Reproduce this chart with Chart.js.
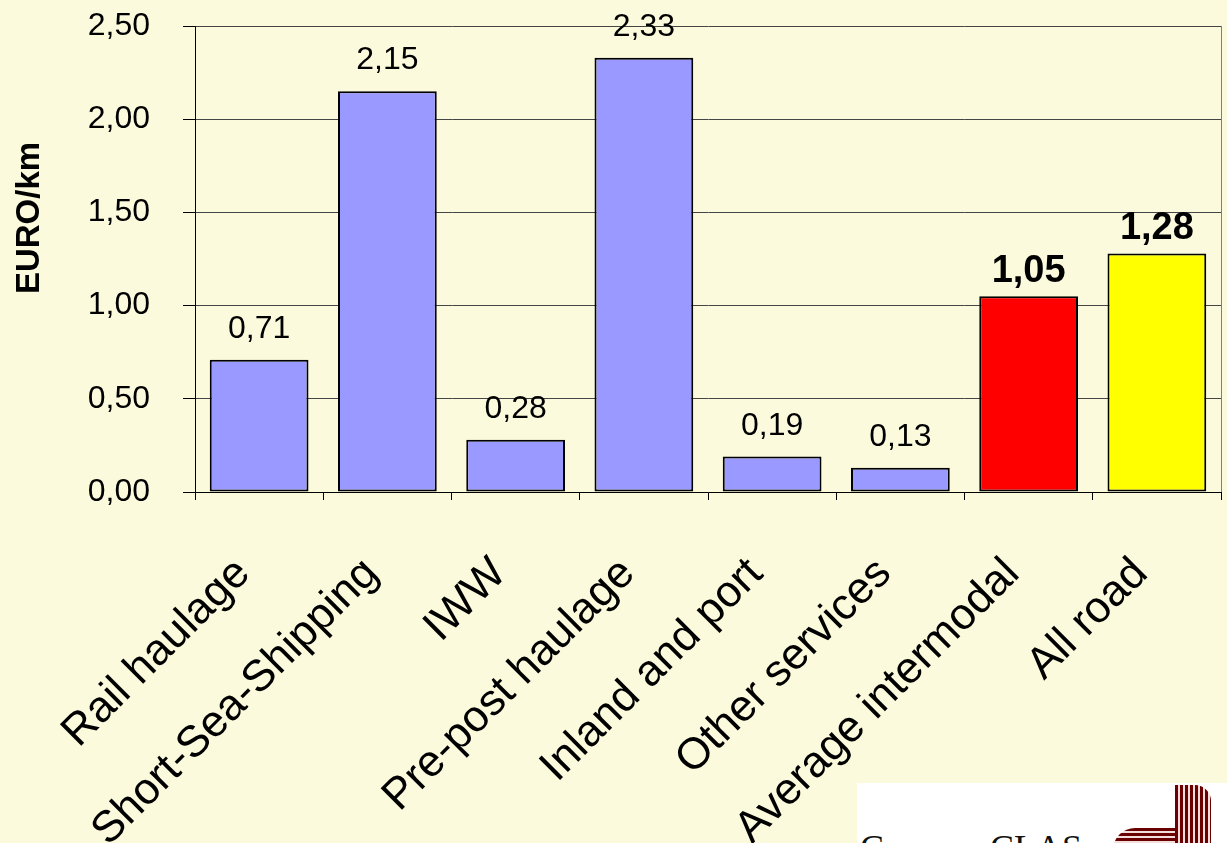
<!DOCTYPE html>
<html>
<head>
<meta charset="utf-8">
<title>EURO/km</title>
<script src="https://cdn.jsdelivr.net/npm/chart.js@4/dist/chart.umd.min.js"></script>
<style>
  html, body { margin: 0; padding: 0; background: #FBFADC; }
  #wrap { position: relative; width: 1227px; height: 843px; overflow: hidden; }
  #logo { position: absolute; left: 857px; top: 783px; width: 370px; height: 60px; background: #fff; overflow: hidden; }
  #logo span { position: absolute; font: 36px "Liberation Serif", serif; line-height: 1; color: #111; top: 47px; }
  #logo .bars-v { position: absolute; left: 318px; top: 2px; width: 36px; height: 70px; border-top-right-radius: 16px;
    background: repeating-linear-gradient(90deg, #6b0000 0 3px, #f3dede 3px 5px); }
  #logo .bars-h { position: absolute; left: 256px; top: 45px; width: 80px; height: 30px; border-top-left-radius: 22px;
    background: repeating-linear-gradient(180deg, #6b0000 0 3px, #f3dede 3px 5px); }
</style>
</head>
<body>
<div id="wrap">
  <canvas id="chart" width="1227" height="843"></canvas>
  <div id="logo">
    <span style="left:3px">C</span>
    <span style="left:133px">CLAS</span>
    <div class="bars-h"></div>
    <div class="bars-v"></div>
  </div>
</div>
<script>
const categories = ["Rail haulage", "Short-Sea-Shipping", "IWW", "Pre-post haulage",
                    "Inland and port", "Other services", "Average intermodal", "All road"];
const costs = [0.71, 2.15, 0.28, 2.33, 0.19, 0.13, 1.05, 1.28];
const barColors = ["#9999FF", "#9999FF", "#9999FF", "#9999FF", "#9999FF", "#9999FF", "#FF0000", "#FFFF00"];
const boldLabels = [false, false, false, false, false, false, true, true];
const yMax = 2.5;
const yStep = 0.5;

const comma = v => v.toFixed(2).replace(".", ",");
const FONT = "'Liberation Sans', Arial, sans-serif";

// value above each bar
const valueLabels = {
  id: "valueLabels",
  afterDatasetsDraw(chart) {
    const ctx = chart.ctx;
    const meta = chart.getDatasetMeta(0);
    ctx.save();
    ctx.fillStyle = "#000";
    ctx.textAlign = "center";
    ctx.textBaseline = "alphabetic";
    meta.data.forEach((bar, i) => {
      const bold = boldLabels[i];
      ctx.font = (bold ? "bold 38px " : "32px ") + FONT;
      ctx.fillText(comma(costs[i]), bar.x, bar.y - (bold ? 14 : 22));
    });
    ctx.restore();
  }
};

// vertical axis title
const axisTitle = {
  id: "axisTitle",
  afterDraw(chart) {
    const ctx = chart.ctx;
    ctx.save();
    ctx.translate(30, 218);
    ctx.rotate(-Math.PI / 2);
    ctx.font = "bold 33px " + FONT;
    ctx.fillStyle = "#000";
    ctx.textAlign = "center";
    ctx.textBaseline = "middle";
    ctx.fillText("EURO/km", 0, 0);
    ctx.restore();
  }
};

new Chart(document.getElementById("chart"), {
  type: "bar",
  data: {
    labels: categories,
    datasets: [{
      data: costs,
      backgroundColor: barColors,
      borderColor: "#000",
      borderWidth: 2,
      borderSkipped: false,
      categoryPercentage: 1,
      barPercentage: 0.77
    }]
  },
  options: {
    responsive: false,
    animation: false,
    layout: { padding: { top: 26, right: 6, left: 0, bottom: 0 } },
    plugins: { legend: { display: false }, tooltip: { enabled: false } },
    scales: {
      x: {
        afterFit: s => { s.height = 351; s.paddingLeft = 0; s.paddingRight = 0; },
        border: { color: "#000", width: 1 },
        grid: {
          color: c => (c.type === "scale" ? "#808080" : "transparent"),
          tickColor: "#000",
          tickLength: 8,
          offset: true
        },
        ticks: {
          color: "#000",
          font: { family: FONT, size: 44 },
          maxRotation: 45,
          minRotation: 45,
          autoSkip: false,
          padding: 48,
          labelOffset: -16
        }
      },
      y: {
        min: 0,
        max: yMax,
        afterFit: s => { s.width = 195; s.paddingTop = 0; s.paddingBottom = 0; },
        border: { color: "#000", width: 1 },
        grid: { color: "#454545", tickColor: "#000", tickLength: 12 },
        ticks: {
          stepSize: yStep,
          color: "#000",
          padding: 33,
          font: { family: FONT, size: 32 },
          callback: v => comma(v)
        }
      }
    }
  },
  plugins: [valueLabels, axisTitle]
});
</script>
</body>
</html>
